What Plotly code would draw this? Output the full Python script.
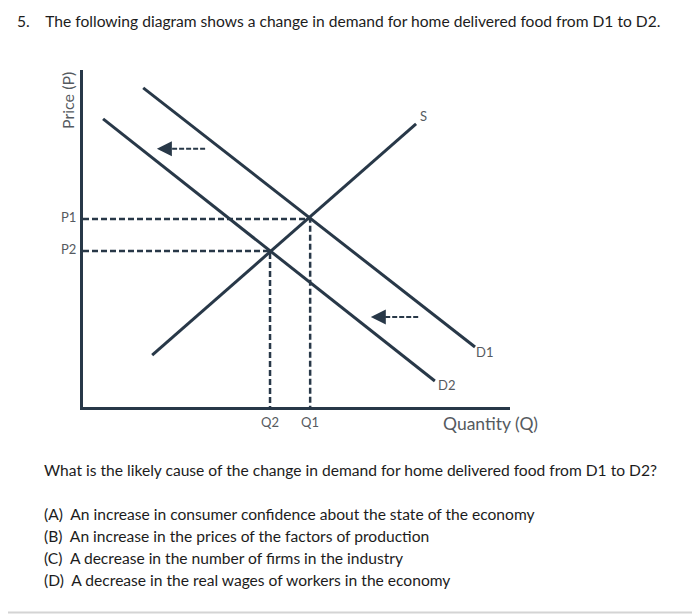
import plotly.graph_objects as go

# ---- data (economic units) ----
d1_q = [14.1, 91.8]
d1_p = [94.7, 17.8]
d2_q = [4.7, 82.4]
d2_p = [85.5, 7.7]
s_q = [16.2, 78.0]
s_p = [15.4, 84.0]
Q1, Q2 = 53.2, 43.8
P1, P2 = 55.8, 46.3
arrow_upper = {"from": 28.6, "to": 17.3, "p": 76.6}
arrow_lower = {"from": 78.5, "to": 67.4, "p": 26.7}

title = "5.&nbsp;&nbsp;&nbsp; The following diagram shows a change in demand for home delivered food from D1 to D2."
question = "What is the likely cause of the change in demand for home delivered food from D1 to D2?"
options = [
    "(A)&nbsp; An increase in consumer confidence about the state of the economy",
    "(B)&nbsp; An increase in the prices of the factors of production",
    "(C)&nbsp; A decrease in the number of firms in the industry",
    "(D)&nbsp; A decrease in the real wages of workers in the economy",
]

LINE = "#283848"
LABEL = "#555a60"
TEXT = "#1c1c1c"
OFF = 8  # page body margin offset
W, H = 700 - OFF, 614 - OFF

def px(x):
    return (x - OFF) / W

def py(y):
    return 1 - (y - OFF) / H

fig = go.Figure()

solid = dict(color=LINE, width=3)
dash = dict(color=LINE, width=2.5, dash="6px,3px")

for q, p in [(d1_q, d1_p), (d2_q, d2_p), (s_q, s_p)]:
    fig.add_trace(go.Scatter(x=q, y=p, mode="lines", line=solid, hoverinfo="skip"))

# guide lines
fig.add_trace(go.Scatter(x=[0, Q1, Q1], y=[P1, P1, 0], mode="lines", line=dash, hoverinfo="skip"))
fig.add_trace(go.Scatter(x=[0, Q2, Q2], y=[P2, P2, 0], mode="lines", line=dash, hoverinfo="skip"))

# shift arrows
for a in (arrow_upper, arrow_lower):
    fig.add_trace(go.Scatter(x=[a["from"], a["to"] + 2.5], y=[a["p"], a["p"]], mode="lines",
                             line=dict(color=LINE, width=2, dash="5px,2px"), hoverinfo="skip"))
    fig.add_annotation(x=a["to"], y=a["p"], ax=a["to"] + 3.0, ay=a["p"], axref="x", ayref="y",
                       xref="x", yref="y", text="", showarrow=True, arrowhead=2,
                       arrowsize=1.0, arrowwidth=3, arrowcolor=LINE)

lab = dict(family="Lato", size=13, color=LABEL)
fig.add_annotation(x=s_q[1], y=s_p[1], text="S", showarrow=False, font=lab,
                   xanchor="left", yanchor="bottom", xshift=2, yshift=-2)
fig.add_annotation(x=d1_q[1], y=d1_p[1], text="D1", showarrow=False, font=lab,
                   xanchor="left", yanchor="top", xshift=-1, yshift=5)
fig.add_annotation(x=d2_q[1], y=d2_p[1], text="D2", showarrow=False, font=lab,
                   xanchor="left", yanchor="top", xshift=1, yshift=6)
for q, t in [(Q1, "Q1"), (Q2, "Q2")]:
    fig.add_annotation(x=q, y=0, text=t, showarrow=False, font=lab,
                       yanchor="top", yshift=-5)
for p, t in [(P1, "P1"), (P2, "P2")]:
    fig.add_annotation(x=0, y=p, text=t, showarrow=False, font=lab,
                       xanchor="right", xshift=-5, yshift=2)

fig.add_annotation(x=1.0, y=0, xref="x domain", yref="y", text="Quantity (Q)", showarrow=False,
                   font=dict(family="Lato", size=17.5, color=LABEL), xanchor="center",
                   yanchor="top", yshift=-4, xshift=-20)
fig.add_annotation(x=0, y=1.0, xref="x domain", yref="y domain", text="Price (P)", showarrow=False,
                   textangle=-90, font=dict(family="Lato", size=16, color=LABEL),
                   xanchor="right", yanchor="top", xshift=-4, yshift=0)

# question text
txt = dict(family="Lato", size=15.6, color=TEXT)
fig.add_annotation(x=px(15), y=py(21), xref="paper", yref="paper", text=title,
                   showarrow=False, font=txt, xanchor="left", yanchor="middle")
fig.add_annotation(x=px(42), y=py(470), xref="paper", yref="paper", text=question,
                   showarrow=False, font=txt, xanchor="left", yanchor="middle")
for i, o in enumerate(options):
    fig.add_annotation(x=px(42), y=py(514 + 22 * i), xref="paper", yref="paper", text=o,
                       showarrow=False, font=txt, xanchor="left", yanchor="middle")

# page border (right & bottom)
fig.add_shape(type="line", xref="paper", yref="paper", x0=px(697), x1=px(697), y0=0, y1=1,
              line=dict(color="#d4d4d4", width=2))
fig.add_shape(type="line", xref="paper", yref="paper", x0=0, x1=1, y0=py(612.5), y1=py(612.5),
              line=dict(color="#d4d4d4", width=2))

fig.update_layout(
    width=W, height=H, margin=dict(l=0, r=0, t=0, b=0),
    paper_bgcolor="white", plot_bgcolor="white", showlegend=False,
    xaxis=dict(domain=[px(83), px(510)], range=[0, 100], showgrid=False, zeroline=False,
               showticklabels=False, ticks="", showline=True, linecolor=LINE, linewidth=3),
    yaxis=dict(domain=[py(407), py(70)], range=[0, 100], showgrid=False, zeroline=False,
               showticklabels=False, ticks="", showline=True, linecolor=LINE, linewidth=3),
)

fig.write_html("out.html")
